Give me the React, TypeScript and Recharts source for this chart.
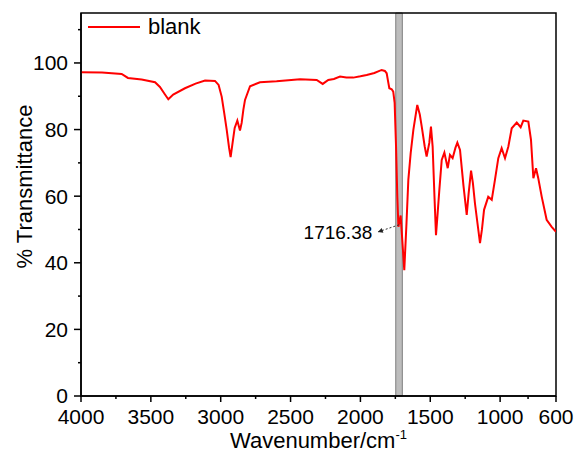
import React from "react"
import {
  LineChart,
  Line,
  XAxis,
  YAxis,
  ReferenceArea,
  ReferenceLine,
  ReferenceDot,
  Legend,
} from "recharts"

// FTIR spectrum (cm-1, % transmittance)
const wavenumbers = [
  4000, 3850, 3709, 3664, 3566, 3470, 3435, 3400, 3375, 3340, 3256, 3180, 3112, 3041, 3015,
  2993, 2975, 2957, 2940, 2929, 2915, 2900, 2881, 2862, 2850, 2838, 2826, 2790, 2719, 2600,
  2432, 2313, 2270, 2230, 2190, 2146, 2100, 2051, 2000, 1955, 1900, 1848, 1825, 1812, 1800,
  1793, 1776, 1765, 1755, 1745, 1736, 1728, 1712, 1686, 1670, 1657, 1640, 1621, 1593, 1575,
  1561, 1540, 1526, 1507, 1495, 1483, 1470, 1459, 1447, 1435, 1418, 1399, 1375, 1359, 1340,
  1320, 1306, 1287, 1262, 1239, 1225, 1208, 1195, 1180, 1144, 1130, 1115, 1085, 1060, 1037,
  1013, 989, 965, 941, 917, 881, 853, 834, 798, 779, 762, 743, 727, 702, 667, 631, 600,
]
const transmittance = [
  97.2, 97.1, 96.7, 95.5, 95.0, 94.2, 92.8, 90.6, 89.1, 90.5, 92.4, 93.8, 94.7, 94.6, 93.4,
  89.9, 85.0, 79.9, 74.5, 71.7, 76.0, 80.5, 82.7, 79.7, 82.0, 85.9, 88.9, 93.0, 94.2, 94.5,
  95.1, 94.9, 93.7, 94.9, 95.2, 95.9, 95.6, 95.6, 96.0, 96.4, 97.0, 97.9, 97.6, 96.9, 94.0,
  92.4, 92.1, 91.4, 88.0, 75.0, 60.0, 50.8, 54.2, 37.8, 52.0, 64.9, 73.0, 79.9, 87.4, 84.5,
  80.9, 75.0, 71.9, 76.0, 80.9, 74.9, 60.0, 48.3, 55.0, 61.9, 70.9, 73.1, 68.4, 72.4, 71.4,
  74.5, 76.1, 73.9, 63.0, 54.4, 61.0, 67.7, 64.0, 57.8, 45.9, 50.0, 55.9, 59.8, 58.9, 64.9,
  71.4, 74.4, 71.4, 74.9, 80.4, 82.1, 80.7, 82.7, 82.4, 76.9, 65.4, 68.4, 65.4, 59.8, 52.9,
  50.8, 49.3,
]

const xMajor = [4000, 3500, 3000, 2500, 2000, 1500, 1000, 600]
const xMinor = [3750, 3250, 2750, 2250, 1750, 1250, 800]
const yMajor = [0, 20, 40, 60, 80, 100]
const yMinor = [10, 30, 50, 70, 90, 110]

const band = { from: 1700, to: 1747 }
const peakLabel = "1716.38"

const data = wavenumbers.map((w, i) => ({ w, t: transmittance[i] }))

const FONT = "'Liberation Sans', Arial, sans-serif"

const XTick = (props: any) => {
  const { x, y, payload } = props
  const major = xMajor.includes(payload.value)
  return (
    <g>
      <line x1={x} x2={x} y1={y} y2={y + (major ? 6 : 3)} stroke="#000" strokeWidth={1.5} />
      {major && (
        <text x={x} y={y + 13} dy="0.71em" textAnchor="middle" fontSize={21} fill="#000" fontFamily={FONT}>
          {payload.value}
        </text>
      )}
    </g>
  )
}

const YTick = (props: any) => {
  const { x, y, payload } = props
  const major = yMajor.includes(payload.value)
  return (
    <g>
      <line x1={x - (major ? 7 : 3)} x2={x} y1={y} y2={y} stroke="#000" strokeWidth={1.5} />
      {major && (
        <text x={x - 13} y={y} dy="0.355em" textAnchor="end" fontSize={21} fill="#000" fontFamily={FONT}>
          {payload.value}
        </text>
      )}
    </g>
  )
}

const XLabel = (props: any) => {
  const { viewBox } = props
  const cx = viewBox.x + viewBox.width / 2
  return (
    <text x={cx} y={viewBox.y + 52} textAnchor="middle" fontSize={22} fill="#000" fontFamily={FONT}>
      <tspan>Wavenumber/cm</tspan>
      <tspan dy={-9} fontSize={13}>-1</tspan>
    </text>
  )
}

const YLabel = (props: any) => {
  const { viewBox } = props
  const x = viewBox.x + 32
  const y = viewBox.y + viewBox.height / 2 - 18
  return (
    <text x={x} y={y} transform={`rotate(-90 ${x} ${y})`} textAnchor="middle" fontSize={22} fill="#000" fontFamily={FONT}>
      % Transmittance
    </text>
  )
}

const renderLegend = () => (
  <svg width={150} height={30}>
    <line x1={2} x2={54} y1={13} y2={13} stroke="#ff0000" strokeWidth={2} />
    <text x={62} y={20} fontSize={22} fill="#000" fontFamily={FONT}>
      blank
    </text>
  </svg>
)

export default function App() {
  return (
    <div style={{ position: "absolute", left: 0, top: 0, background: "#fff", fontFamily: FONT }}>
      <LineChart width={581} height={463} data={data} margin={{ top: 13, right: 25, bottom: 0, left: 0 }}>
        <defs>
          <marker id="arrowHead" viewBox="0 0 10 10" refX={9} refY={5} markerWidth={6} markerHeight={5} orient="auto">
            <path d="M0,0 L10,5 L0,10 z" fill="#222" />
          </marker>
        </defs>
        <XAxis
          dataKey="w"
          type="number"
          domain={[600, 4000]}
          reversed
          allowDataOverflow
          ticks={[...xMajor, ...xMinor]}
          interval={0}
          tickSize={0}
          tickMargin={0}
          tick={<XTick />}
          height={67}
          axisLine={{ stroke: "#000", strokeWidth: 1.5 }}
          label={<XLabel />}
        />
        <YAxis
          type="number"
          domain={[0, 115]}
          allowDataOverflow
          ticks={[...yMajor, ...yMinor]}
          interval={0}
          tickSize={0}
          tickMargin={0}
          tick={<YTick />}
          width={81}
          axisLine={{ stroke: "#000", strokeWidth: 1.5 }}
          label={<YLabel />}
        />
        <ReferenceArea x1={band.from} x2={band.to} y1={0} y2={115} fill="#bdbdbd" fillOpacity={1} stroke="#7f7f7f" strokeWidth={1} />
        <ReferenceArea x1={600} x2={4000} y1={0} y2={115} fill="none" stroke="#000" strokeWidth={1.5} />
        <Line
          type="linear"
          dataKey="t"
          stroke="#ff0000"
          strokeWidth={2}
          dot={false}
          isAnimationActive={false}
          name="blank"
        />
        <ReferenceLine
          segment={[{ x: 1724, y: 51.4 }, { x: 1872, y: 49.3 }]}
          stroke="#333"
          strokeWidth={1}
          strokeDasharray="2 2"
          markerEnd="url(#arrowHead)"
        />
        <ReferenceDot
          x={1872}
          y={49.2}
          r={1}
          fill="none"
          stroke="none"
          label={{ value: peakLabel, position: "left", offset: 5, fontSize: 19, fill: "#000", fontFamily: FONT }}
        />
        <Legend
          layout="vertical"
          align="center"
          verticalAlign="middle"
          content={renderLegend}
          wrapperStyle={{ top: 14, left: 86, width: 150, height: 30 }}
        />
      </LineChart>
    </div>
  )
}
